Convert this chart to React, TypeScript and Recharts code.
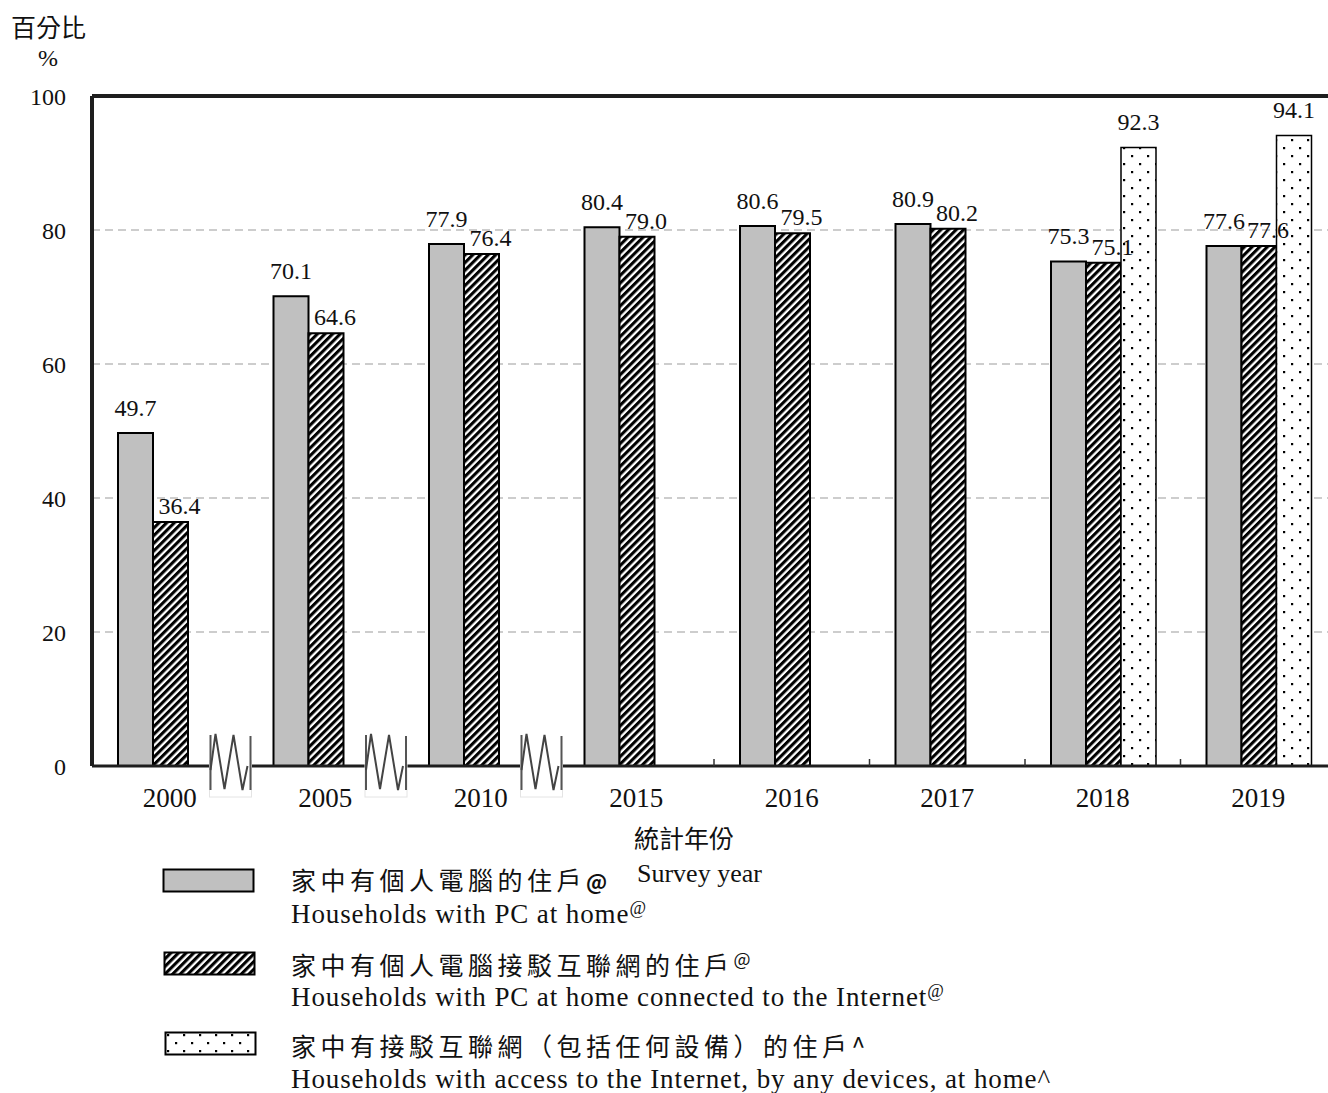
import React from "react"
import { Bar, BarChart, CartesianGrid, LabelList, ReferenceLine, XAxis, YAxis } from "recharts"

const YEARS = ["2000", "2005", "2010", "2015", "2016", "2017", "2018", "2019"]
const PC_AT_HOME = [49.7, 70.1, 77.9, 80.4, 80.6, 80.9, 75.3, 77.6]
const PC_CONNECTED = [36.4, 64.6, 76.4, 79.0, 79.5, 80.2, 75.1, 77.6]
const ANY_DEVICE = [null, null, null, null, null, null, 92.3, 94.1]
const Y_TICKS = [0, 20, 40, 60, 80, 100]

const data = YEARS.map((year, i) => ({
  year,
  pc: PC_AT_HOME[i],
  pcNet: PC_CONNECTED[i],
  anyNet: ANY_DEVICE[i],
}))

const CHART_W = 1340
const Y_AXIS_W = 92
const RIGHT = 4
const BAND = (CHART_W - Y_AXIS_W - RIGHT) / YEARS.length

const SERIF = "'Liberation Serif', 'Times New Roman', serif"
const CJK = "'Noto Sans CJK TC', 'Noto Sans CJK SC', sans-serif"
const GRAY = "#c0c0c0"
const AXIS = "#1e1e1e"

function makeLabel(dx: number, lift: number) {
  return (props: any) => {
    const { x, y, width, value } = props
    if (value == null) return null
    return (
      <text
        x={Number(x) + Number(width) / 2 + dx}
        y={Number(y) - lift}
        textAnchor="middle"
        fontFamily={SERIF}
        fontSize={24}
        fill="#111"
      >
        {Number(value).toFixed(1)}
      </text>
    )
  }
}

function BreakMark({ c, b }: { c: number; b: number }) {
  return (
    <g>
      <rect x={c - 21} y={b - 34} width={42} height={65} fill="#fff" stroke="#e4e4e4" strokeWidth={1} />
      <rect x={c - 22} y={b - 36} width={44} height={30} fill="#fff" />
      <line x1={c - 20} y1={b - 31} x2={c - 20} y2={b + 24} stroke="#555" strokeWidth={2} />
      <line x1={c + 20} y1={b - 30} x2={c + 20} y2={b + 24} stroke="#555" strokeWidth={2} />
      <polyline
        points={`${c - 20},${b + 4} ${c - 15},${b - 32} ${c - 6},${b + 23} ${c + 3},${b - 31} ${c + 12},${b + 24} ${c + 17},${b}`}
        fill="none"
        stroke="#444"
        strokeWidth={2}
      />
    </g>
  )
}

// year label, plus the mark on the boundary to the right of the category:
// a break symbol where years are skipped, a small tick otherwise
function YearTick(props: any) {
  const { x, y, payload } = props
  const i = payload.index
  const axisY = y - 22
  const edge = x + BAND / 2
  const next = YEARS[i + 1]
  let mark = null
  if (next) {
    mark = Number(next) - Number(YEARS[i]) > 1
      ? <BreakMark c={edge - 17} b={axisY} />
      : <line x1={edge} y1={axisY} x2={edge} y2={axisY - 7} stroke="#333" strokeWidth={1.5} />
  }
  return (
    <g>
      {mark}
      <text x={x} y={y} dy="0.71em" textAnchor="middle" fontFamily={SERIF} fontSize={27} fill="#111">
        {payload.value}
      </text>
    </g>
  )
}

function Patterns({ suffix }: { suffix: string }) {
  return (
    <defs>
      <pattern id={`hatch${suffix}`} width={5.4} height={5.4} patternUnits="userSpaceOnUse" patternTransform="rotate(45)">
        <rect width={5.4} height={5.4} fill="#fff" />
        <rect width={3.1} height={5.4} fill="#000" />
      </pattern>
      <pattern id={`dots${suffix}`} width={16} height={16} patternUnits="userSpaceOnUse">
        <rect width={16} height={16} fill="#fff" />
        <rect x={3} y={3} width={2.2} height={2.2} fill="#000" />
        <rect x={11} y={11} width={2.2} height={2.2} fill="#000" />
      </pattern>
    </defs>
  )
}

function Swatch({ left, top, fill, suffix }: { left: number; top: number; fill: string; suffix: string }) {
  return (
    <svg style={{ position: "absolute", left, top }} width={94} height={26}>
      <Patterns suffix={suffix} />
      <rect x={1.5} y={1.5} width={90} height={22} fill={fill} stroke="#000" strokeWidth={2} />
    </svg>
  )
}

function Txt({ left, top, font, size, spacing, children }: any) {
  return (
    <div
      style={{
        position: "absolute",
        left,
        top,
        fontFamily: font,
        fontSize: size,
        letterSpacing: spacing,
        lineHeight: 1,
        whiteSpace: "nowrap",
        color: "#111",
      }}
    >
      {children}
    </div>
  )
}

const sup = { fontSize: 18, verticalAlign: "9px", letterSpacing: 0 }

export default function App() {
  return (
    <div style={{ position: "absolute", left: 0, top: 0, width: 1328, height: 1093, overflow: "hidden", background: "#fff" }}>
      <BarChart
        width={CHART_W}
        height={1093}
        data={data}
        margin={{ top: 96, right: RIGHT, left: 0, bottom: 297 }}
        barCategoryGap={26}
        barGap={0}
      >
        <Patterns suffix="" />
        <CartesianGrid vertical={false} stroke="#bdbdbd" strokeWidth={1.5} strokeDasharray="8 5" />
        <XAxis
          dataKey="year"
          height={30}
          tickLine={false}
          tickSize={0}
          tickMargin={22}
          interval={0}
          axisLine={{ stroke: AXIS, strokeWidth: 3 }}
          tick={<YearTick />}
        />
        <YAxis
          width={Y_AXIS_W}
          domain={[0, 100]}
          ticks={Y_TICKS}
          interval={0}
          tickLine={false}
          tickSize={0}
          tickMargin={26}
          axisLine={{ stroke: AXIS, strokeWidth: 4 }}
          tick={{ fontFamily: SERIF, fontSize: 24, fill: "#111" }}
        />
        <ReferenceLine y={100} stroke={AXIS} strokeWidth={4} />
        <Bar dataKey="pc" fill={GRAY} stroke="#000" strokeWidth={2} isAnimationActive={false}>
          <LabelList dataKey="pc" content={makeLabel(0, 17)} />
        </Bar>
        <Bar dataKey="pcNet" fill="url(#hatch)" stroke="#000" strokeWidth={2} isAnimationActive={false}>
          <LabelList dataKey="pcNet" content={makeLabel(9, 8)} />
        </Bar>
        <Bar dataKey="anyNet" fill="url(#dots)" stroke="#000" strokeWidth={1.5} isAnimationActive={false}>
          <LabelList dataKey="anyNet" content={makeLabel(0, 18)} />
        </Bar>
      </BarChart>

      <Txt left={11} top={14} font={CJK} size={25}>百分比</Txt>
      <Txt left={38} top={46} font={SERIF} size={24}>%</Txt>

      <Txt left={634} top={825} font={CJK} size={25}>統計年份</Txt>
      <Txt left={637} top={861} font={SERIF} size={26}>Survey year</Txt>

      <Swatch left={162} top={868} fill={GRAY} suffix="a" />
      <Txt left={291} top={867} font={CJK} size={25}>
        <span style={{ letterSpacing: 4.5 }}>家中有個人電腦的住戶</span>
        <span style={{ fontSize: 21, fontWeight: 700 }}>@</span>
      </Txt>
      <Txt left={291} top={899} font={SERIF} size={27} spacing={0.9}>
        Households with PC at home<sup style={sup}>@</sup>
      </Txt>

      <Swatch left={163} top={951} fill="url(#hatchb)" suffix="b" />
      <Txt left={291} top={949} font={CJK} size={25}>
        <span style={{ letterSpacing: 4.5 }}>家中有個人電腦接駁互聯網的住戶</span>
        <sup style={sup}>@</sup>
      </Txt>
      <Txt left={291} top={982} font={SERIF} size={27} spacing={0.9}>
        Households with PC at home connected to the Internet<sup style={sup}>@</sup>
      </Txt>

      <Swatch left={164} top={1031} fill="url(#dotsc)" suffix="c" />
      <Txt left={291} top={1033} font={CJK} size={25}>
        <span style={{ letterSpacing: 4.5 }}>家中有接駁互聯網（包括任何設備）的住戶</span>^
      </Txt>
      <Txt left={291} top={1066} font={SERIF} size={27} spacing={0.9}>
        Households with access to the Internet, by any devices, at home^
      </Txt>
    </div>
  )
}
